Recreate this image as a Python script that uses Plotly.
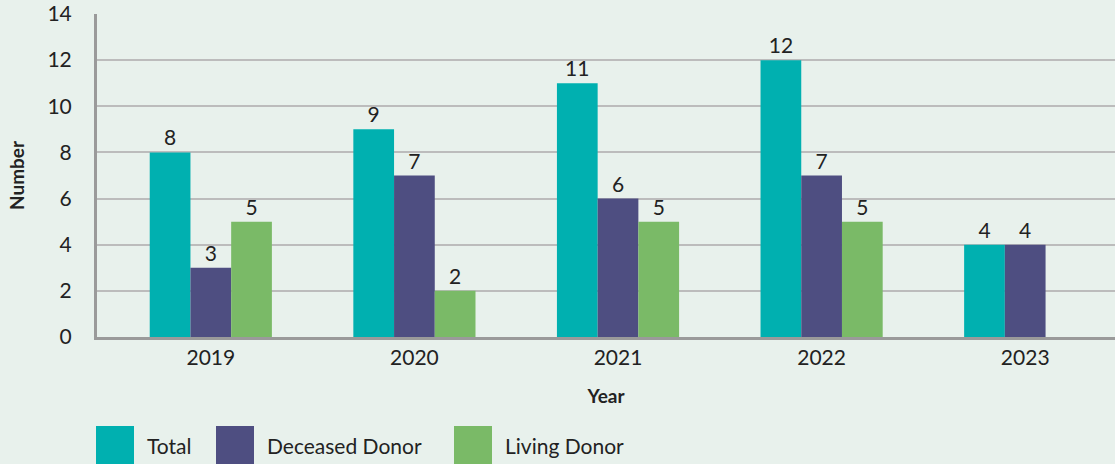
import plotly.graph_objects as go

years = ["2019", "2020", "2021", "2022", "2023"]
total = [8, 9, 11, 12, 4]
deceased = [3, 7, 6, 7, 4]
living = [5, 2, 5, 5, None]
series_names = ["Total", "Deceased Donor", "Living Donor"]
colors = ["#00b0b0", "#4e4e81", "#7aba67"]
y_ticks = [0, 2, 4, 6, 8, 10, 12, 14]

FONT = "Lato, Inter, sans-serif"
FS = 21
fig = go.Figure()
for name, vals, col in zip(series_names, [total, deceased, living], colors):
    fig.add_trace(go.Bar(
        x=years, y=vals, name=name, marker_color=col, marker_line_width=0,
        text=[("" if v is None else str(v)) for v in vals], textposition="outside",
        textfont=dict(size=FS, color="#222222", family=FONT), cliponaxis=False,
        showlegend=False,
    ))

# legend drawn as big swatches
leg_x = [96, 216, 454]
for name, col, lx in zip(series_names, colors, leg_x):
    fig.add_shape(type="rect", xref="paper", yref="paper",
                  x0=(lx - 97) / 1018, x1=(lx + 38 - 97) / 1018,
                  y0=-(466 - 337) / 323, y1=-(426 - 337) / 323,
                  fillcolor=col, line_width=0)
    fig.add_annotation(xref="paper", yref="paper", x=(lx + 49 - 97) / 1018,
                       y=-(446 - 337) / 323, text=name, showarrow=False,
                       xanchor="left", yanchor="middle",
                       font=dict(size=FS, color="#222222", family=FONT))

fig.update_layout(
    width=1115, height=464,
    margin=dict(l=97, r=0, t=14, b=127),
    paper_bgcolor="#e8f1ec", plot_bgcolor="#e8f1ec",
    barmode="group", bargap=0.4, bargroupgap=0,
    font=dict(family=FONT, size=FS, color="#222222"),
    xaxis=dict(title=dict(text="<b>Year</b>", font=dict(size=19), standoff=22),
               range=[-0.559, 4.441],
               showline=True, linecolor="#9a9a9a", linewidth=3, ticks="",
               tickfont=dict(size=FS)),
    yaxis=dict(title=dict(text="<b>Number</b>", font=dict(size=19), standoff=18),
               range=[0, 14], tickvals=y_ticks, showline=True, linecolor="#9a9a9a",
               linewidth=3, gridcolor="#bcbcbc", gridwidth=1.5, zeroline=False,
               ticks="", ticklabelstandoff=18, tickfont=dict(size=FS)),
)
fig.write_html("out.html", config={"displayModeBar": False},
               post_script="document.body.style.margin='0';document.body.style.padding='0';")
